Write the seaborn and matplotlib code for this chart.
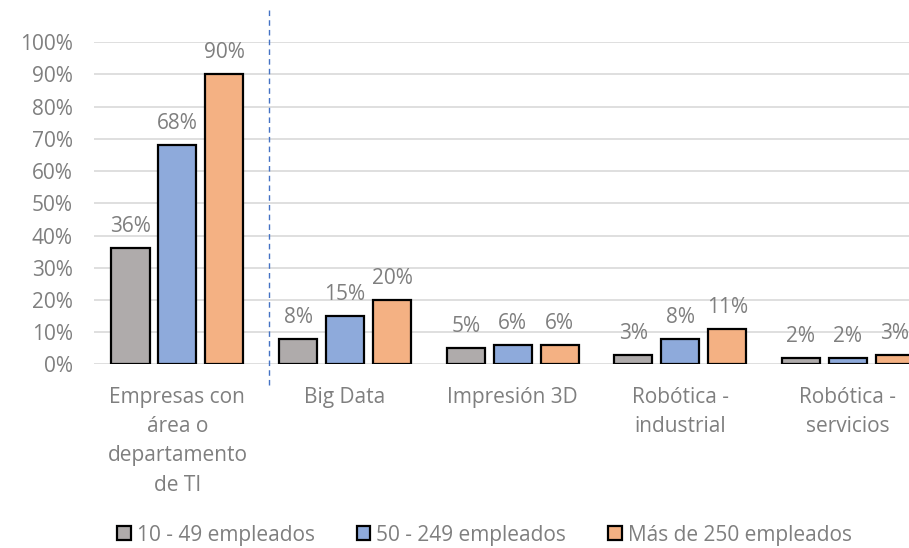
import pandas as pd
import matplotlib.pyplot as plt
import seaborn as sns

# Datos del gráfico
categorias = ['Empresas con\nárea o\ndepartamento\nde TI', 'Big Data', 'Impresión 3D',
              'Robótica -\nindustrial', 'Robótica -\nservicios']
grupos = ['10 - 49 empleados', '50 - 249 empleados', 'Más de 250 empleados']
pequenas = [36, 8, 5, 3, 2]
medianas = [68, 15, 6, 8, 2]
grandes = [90, 20, 6, 11, 3]
y_ticks = list(range(0, 101, 10))

colores = ['#AFABAB', '#8EAADB', '#F4B183']
gris_texto = '#7F7F7F'
fs = 15

df = pd.DataFrame({
    'categoria': categorias * 3,
    'grupo': [g for g in grupos for _ in categorias],
    'valor': pequenas + medianas + grandes,
})

sns.set_style('white')
plt.rcParams['font.family'] = ['Open Sans', 'DejaVu Sans']

fig = plt.figure(figsize=(9.09, 5.48), dpi=100)
ax = fig.add_axes([0.103, 0.335, 0.922, 0.588])

sns.barplot(data=df, x='categoria', y='valor', hue='grupo', palette=colores,
            saturation=1, edgecolor='black', linewidth=1.6, width=0.84, gap=0.19,
            errorbar=None, ax=ax)

# Etiquetas de datos
for cont in ax.containers:
    ax.bar_label(cont, labels=[f'{v.get_height():.0f}%' for v in cont],
                 padding=8, fontsize=fs, color=gris_texto)

ax.set_ylim(0, 100)
ax.set_xlim(-0.5, 4.5)
ax.set_yticks(y_ticks)
ax.set_yticklabels([f'{t}%' for t in y_ticks])
ax.yaxis.grid(True, color='#D9D9D9', linewidth=1.2)
ax.set_axisbelow(True)
for s in ax.spines.values():
    s.set_visible(False)
ax.tick_params(axis='y', length=0, pad=15, labelsize=fs, labelcolor=gris_texto)
ax.tick_params(axis='x', length=0, pad=16, labelsize=fs, labelcolor=gris_texto)
plt.setp(ax.get_xticklabels(), linespacing=1.52, va='top')
ax.set_xlabel('')
ax.set_ylabel('')

# Línea divisoria discontinua
ax.axvline(0.545, ymin=-0.064, ymax=1.1, color='#4472C4', linestyle=(0, (4, 3)),
           linewidth=1.0, clip_on=False)

ax.get_legend().remove()
handles, labels = ax.get_legend_handles_labels()
fig.legend(handles, labels, loc='lower center', bbox_to_anchor=(0.533, -0.03), ncol=3,
           frameon=False, fontsize=fs, handlelength=0.65, handleheight=0.65,
           handletextpad=0.3, columnspacing=2.0, labelcolor=gris_texto)

fig.savefig('out.png', dpi=100)
